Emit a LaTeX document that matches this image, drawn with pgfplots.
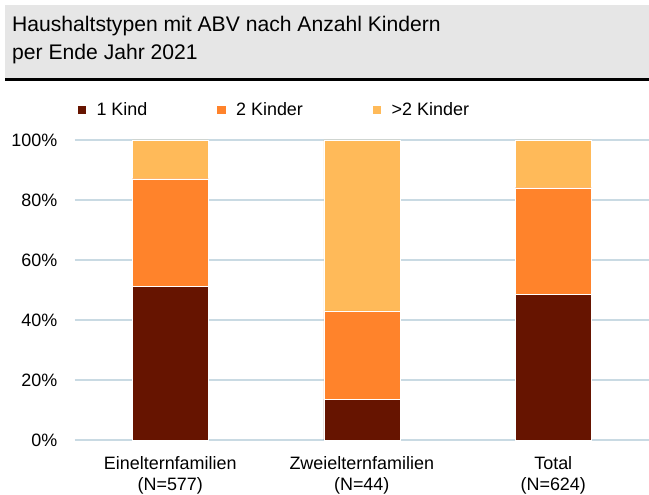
\documentclass[border=0pt]{standalone}
\usepackage{pgfplots}
\pgfplotsset{compat=1.18}
\usepackage{pgfplotstable}
\usepackage{fontspec}
\setmainfont{Liberation Sans}

\definecolor{kindA}{HTML}{661400}
\definecolor{kindB}{HTML}{FF832B}
\definecolor{kindC}{HTML}{FFBA59}
\definecolor{gridc}{HTML}{C9DAE3}
\definecolor{titlebg}{HTML}{E6E6E6}

% share of households (%) per number of children
\pgfplotstableread{
x  eins zwei mehr
0  51.3 35.8 12.9
1  13.6 29.4 57.0
2  48.6 35.5 15.9
}\kinder

\begin{document}
\begin{tikzpicture}[x=1bp,y=1bp]
\useasboundingbox (0,0) rectangle (649,495);
% title box
\fill[titlebg] (5,417) rectangle (649,490);
\draw[line width=2.6bp] (5,415.5) -- (649,415.5);
\node[anchor=base west, inner sep=0pt, font=\fontsize{21.2}{25}\selectfont] at (12,463) {Haushaltstypen mit ABV nach Anzahl Kindern};
\node[anchor=base west, inner sep=0pt, font=\fontsize{21.2}{25}\selectfont] at (12,435) {per Ende Jahr 2021};

\begin{axis}[
  scale only axis,
  width=574.5bp, height=300bp,
  at={(74.5bp,55bp)}, anchor=south west,
  ybar stacked, bar width=76bp,
  xmin=-0.5, xmax=2.5, ymin=0, ymax=100,
  axis line style={draw=none},
  major tick length=0pt,
  ymajorgrids, grid style={gridc, line width=1.3bp},
  ytick={0,20,...,100},
  yticklabel={\pgfmathprintnumber{\tick}\%},
  yticklabel style={inner sep=0pt, anchor=east, xshift=-17bp},
  xtick=data,
  xticklabels={{Einelternfamilien\\(N=577)},{Zweielternfamilien\\(N=44)},{Total\\(N=624)}},
  xticklabel style={align=center, inner sep=0pt, anchor=north, yshift=-16bp},
  tick label style={font=\fontsize{18}{21}\selectfont},
  /pgf/number format/assume math mode=true,
  legend columns=3,
  legend style={at={(axis description cs:0,1)}, anchor=west, xshift=2bp, yshift=30bp,
    draw=none, fill=none, inner sep=0pt, font=\fontsize{18}{21}\selectfont,
    nodes={inner sep=0pt},
    /tikz/every odd column/.append style={column sep=10bp},
    /tikz/every even column/.append style={column sep=69bp}},
  legend image code/.code={\fill[#1] (0bp,-4.5bp) rectangle (9.5bp,4.5bp);},
  clip=false,
]
\addplot[fill=kindA, draw=white, line width=0.3bp] table[x=x, y=eins] {\kinder};
\addlegendentry{1 Kind}
\addplot[fill=kindB, draw=white, line width=0.3bp] table[x=x, y=zwei] {\kinder};
\addlegendentry{2 Kinder}
\addplot[fill=kindC, draw=white, line width=0.3bp] table[x=x, y=mehr] {\kinder};
\addlegendentry{>2 Kinder}
\end{axis}
\end{tikzpicture}
\end{document}
